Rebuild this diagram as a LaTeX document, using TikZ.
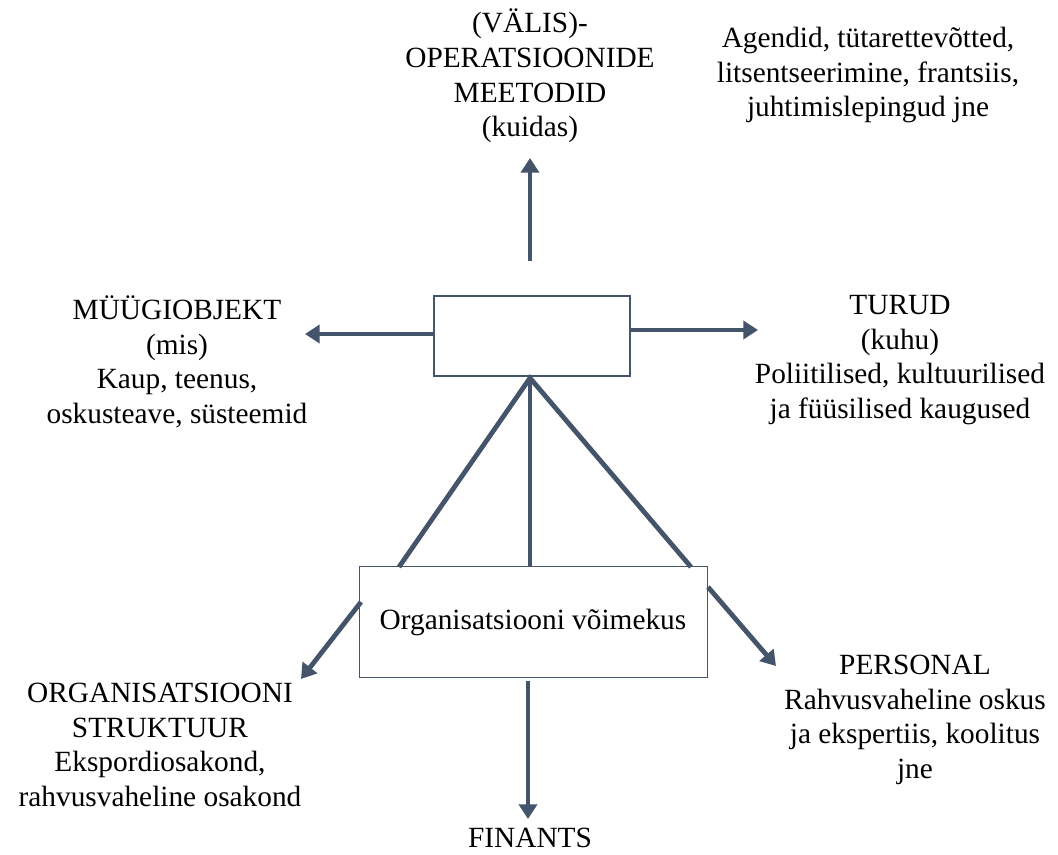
\documentclass[tikz,border=0pt]{standalone}
\usepackage{fontspec}
\setmainfont{Liberation Serif}
\usetikzlibrary{arrows.meta}
\definecolor{slate}{HTML}{44546A}
\begin{document}
\begin{tikzpicture}[x=0.75pt,y=-0.75pt,
  conn/.style={draw=slate,line width=3.6pt},
  arr/.style={conn,-{Triangle[length=11pt,width=13.5pt]}},
  lbl/.style={align=center,font=\fontsize{22}{26}\selectfont,inner sep=0pt},
  boxA/.style={draw=slate,line width=1.8pt,fill=white},
  boxB/.style={draw=slate,line width=1.1pt,fill=white,font=\fontsize{22}{26}\selectfont}]
\useasboundingbox (0,0) rectangle (1058,855);
% boxes
\node[boxA,minimum width=196*0.75pt,minimum height=80*0.75pt,anchor=north west,inner sep=0pt] (top) at (433,295) {};
\node[boxB,minimum width=348*0.75pt,minimum height=111*0.75pt,anchor=north west,inner sep=0pt] (org) at (359,566) {};
\node[lbl] (orgtxt) at (533,622) {Organisatsiooni võimekus};
% labels
\node[lbl] (meth) at (530,76) {(VÄLIS)-\\OPERATSIOONIDE\\MEETODID\\(kuidas)};
\node[lbl] (agent) at (868,75) {Agendid, tütarettevõtted,\\litsentseerimine, frantsiis,\\juhtimislepingud jne};
\node[lbl] (muug) at (177,362) {MÜÜGIOBJEKT\\(mis)\\Kaup, teenus,\\oskusteave, süsteemid};
\node[lbl] (turud) at (900,360) {TURUD\\(kuhu)\\Poliitilised, kultuurilised\\ja füüsilised kaugused};
\node[lbl] (struk) at (160,745) {ORGANISATSIOONI\\STRUKTUUR\\Ekspordiosakond,\\rahvusvaheline osakond};
\node[lbl] (pers) at (915,720) {PERSONAL\\Rahvusvaheline oskus\\ja ekspertiis, koolitus\\jne};
\node[lbl] (fin) at (530,838) {FINANTS};
% coordinates for arrows
\coordinate (upS) at (530,261);
\coordinate (upE) at (530,158);
\coordinate (lE) at (305,334);
\coordinate (rE) at (758,330);
\coordinate (apex) at (530,378);
\coordinate (bl) at (399,567);
\coordinate (bm) at (530,567);
\coordinate (br) at (691,567);
\coordinate (dlS) at (361,602);
\coordinate (dlE) at (301,679);
\coordinate (drS) at (708,587);
\coordinate (drE) at (776,666);
\coordinate (dS) at (528,681);
\coordinate (dE) at (528,819);
% connectors
\draw[arr] (upS) -- (upE);
\draw[arr] (top.west |- 0,334) -- (lE);
\draw[arr] (top.east |- 0,330) -- (rE);
\draw[conn] (bl) -- (apex) -- (br);
\draw[conn] (apex) -- (bm);
\draw[arr] (dlS) -- (dlE);
\draw[arr] (drS) -- (drE);
\draw[arr] (dS) -- (dE);
% redraw box borders on top
\node[boxA,fill=none,minimum width=196*0.75pt,minimum height=80*0.75pt,anchor=north west,inner sep=0pt] at (433,295) {};
\node[boxB,fill=none,minimum width=348*0.75pt,minimum height=111*0.75pt,anchor=north west,inner sep=0pt] at (359,566) {};
\end{tikzpicture}
\end{document}
